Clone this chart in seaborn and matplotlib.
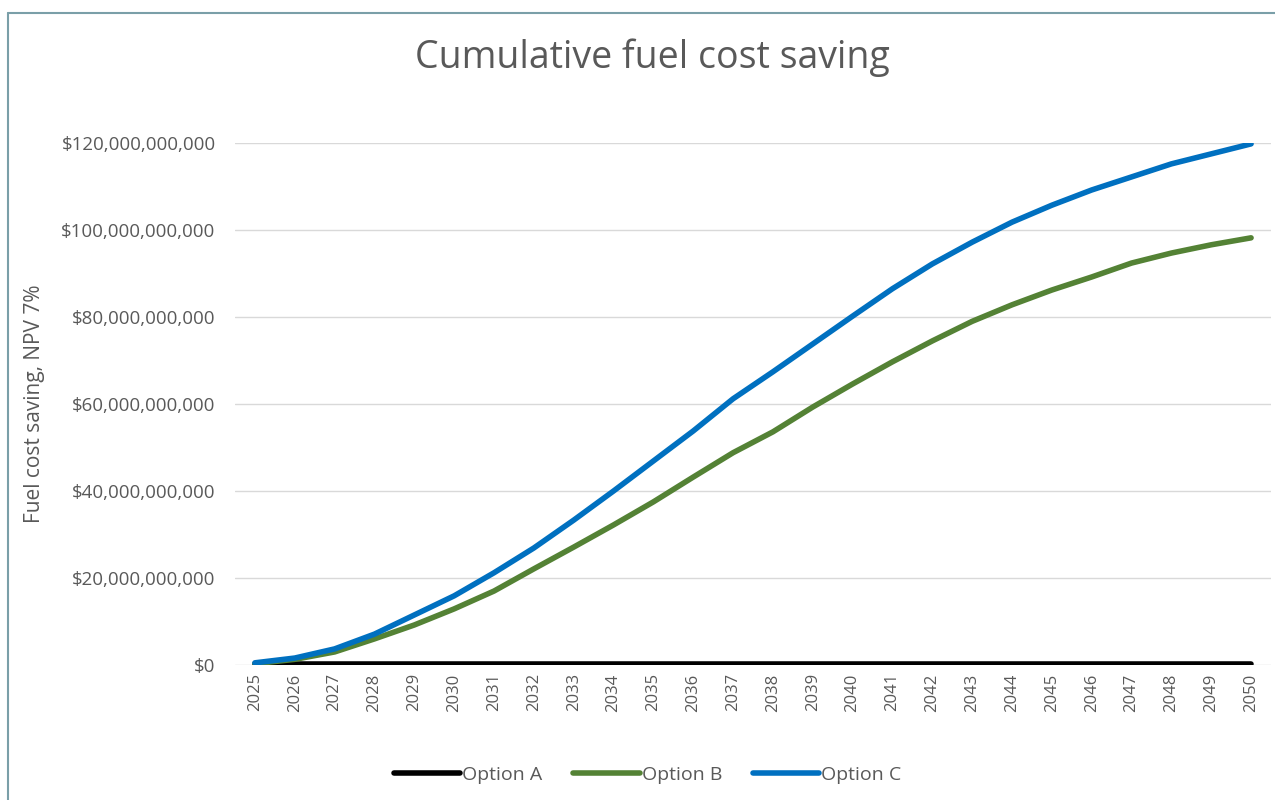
import matplotlib
matplotlib.use("Agg")
import matplotlib.pyplot as plt
import matplotlib.ticker as mticker
from matplotlib.lines import Line2D
import seaborn as sns
import pandas as pd

years = list(range(2025, 2051))
option_a = [0.3e9] * 26
option_b = [0.3e9, 1.3e9, 3.0e9, 6.0e9, 9.2e9, 12.9e9, 17.0e9, 22.1e9, 27.1e9, 32.2e9,
            37.5e9, 43.2e9, 48.8e9, 53.6e9, 59.3e9, 64.6e9, 69.7e9, 74.5e9, 79.0e9, 82.8e9,
            86.2e9, 89.2e9, 92.4e9, 94.7e9, 96.6e9, 98.2e9]
option_c = [0.5e9, 1.6e9, 3.7e9, 7.1e9, 11.5e9, 15.9e9, 21.2e9, 26.9e9, 33.3e9, 40.0e9,
            46.9e9, 53.8e9, 61.2e9, 67.4e9, 73.8e9, 80.2e9, 86.5e9, 92.2e9, 97.2e9, 101.8e9,
            105.7e9, 109.2e9, 112.2e9, 115.2e9, 117.5e9, 119.8e9]
series_names = ["Option A", "Option B", "Option C"]
colors = ["#000000", "#548235", "#0070C0"]

df = pd.DataFrame({
    "Year": years * 3,
    "Saving": option_a + option_b + option_c,
    "Option": [n for n in series_names for _ in years],
})

sns.set_theme(style="white")
plt.rcParams["font.family"] = ["Open Sans", "DejaVu Sans"]
gray = "#595959"

fig = plt.figure(figsize=(12.75, 8), dpi=100)
ax = fig.add_axes([235 / 1275, 1 - 665 / 800, (1271 - 235) / 1275, (665 - 143) / 800])

sns.lineplot(data=df, x="Year", y="Saving", hue="Option", palette=colors,
             linewidth=4.0, ax=ax, legend=False, solid_capstyle="round")

ax.set_xlim(2024.5, 2050.5)
ax.set_ylim(0, 120e9)
ax.set_xticks(years)
ax.set_xticklabels([str(y) for y in years], rotation=90, fontsize=12, color=gray)
ax.set_yticks([i * 20e9 for i in range(7)])
ax.yaxis.set_major_formatter(mticker.FuncFormatter(lambda v, p: "${:,.0f}".format(v)))
ax.tick_params(axis="y", labelsize=13.5, labelcolor=gray, length=0, pad=14)
ax.tick_params(axis="x", length=0, pad=6)
ax.grid(axis="y", color="#d9d9d9", linewidth=1)
ax.set_axisbelow(True)
for s in ax.spines.values():
    s.set_visible(False)
ax.set_xlabel("")
ax.set_ylabel("Fuel cost saving, NPV 7%", fontsize=15, color=gray)
ax.yaxis.set_label_coords(-0.183, 0.5)

fig.text(0.512, 1 - 58 / 800, "Cumulative fuel cost saving", ha="center", va="center",
         fontsize=27, color=gray)

handles = [Line2D([0], [0], color=c, lw=4.0, solid_capstyle="round") for c in colors]
fig.legend(handles, series_names, loc="center", bbox_to_anchor=(0.508, 1 - 775 / 800),
           ncol=3, frameon=False, fontsize=14, handlelength=3.4, handletextpad=0.1,
           columnspacing=1.6, labelcolor=gray)

border = "#7a9fa8"
fig.add_artist(Line2D([8 / 1275, 1.0], [1 - 12.5 / 800, 1 - 12.5 / 800], color=border, lw=1.5,
                      transform=fig.transFigure))
fig.add_artist(Line2D([8 / 1275, 8 / 1275], [0, 1 - 12.5 / 800], color=border, lw=1.5,
                      transform=fig.transFigure))

fig.savefig("out.png", dpi=100, facecolor="white")
